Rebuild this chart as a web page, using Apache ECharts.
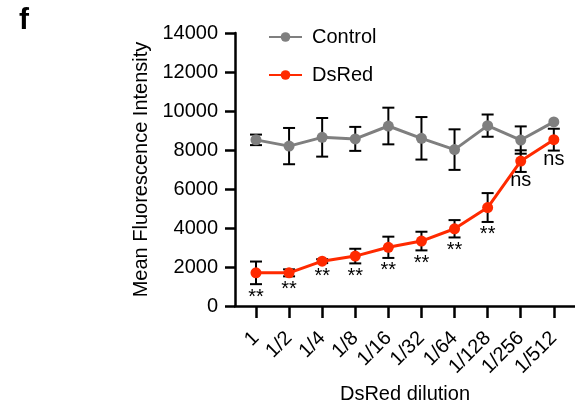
<!DOCTYPE html>
<html>
<head>
<meta charset="utf-8">
<script src="https://cdn.jsdelivr.net/npm/echarts@6/dist/echarts.min.js"></script>
<style>
  html, body { margin: 0; padding: 0; background: #fff; }
  #main { width: 575px; height: 404px; }
</style>
</head>
<body>
<div id="main"></div>
<script>
// dilution categories (x axis)
var dilutions = ['1', '1/2', '1/4', '1/8', '1/16', '1/32', '1/64', '1/128', '1/256', '1/512'];

// mean +/- error
var controlMean = [8520, 8200, 8650, 8570, 9230, 8600, 8020, 9250, 8510, 9440];
var controlErr  = [270, 930, 990, 615, 940, 1090, 1040, 570, 700, 0];
var dsredMean   = [1700, 1700, 2300, 2560, 3010, 3330, 3960, 5050, 7430, 8530];
var dsredErr    = [580, 180, 100, 375, 545, 478, 445, 740, 555, 560];
var sigLabels   = ['**', '**', '**', '**', '**', '**', '**', '**', 'ns', 'ns'];

var yTicks = [0, 2000, 4000, 6000, 8000, 10000, 12000, 14000];

var FONT = 'Arial, "Liberation Sans", sans-serif';
var GRAY = '#7f7f7f';
var RED = '#ff2a00';

function pts(arr) {
  return arr.map(function (v, i) { return [i, v]; });
}
function errData(mean, err, labels) {
  return mean.map(function (v, i) { return [i, v, err[i], labels ? labels[i] : '']; });
}

// error bar + significance mark under the lower whisker
function errorRender(params, api) {
  var i = api.value(0), m = api.value(1), e = api.value(2);
  var lab = api.value(3);
  var top = api.coord([i, m + e]);
  var bot = api.coord([i, m - e]);
  var hw = 6;
  var st = { stroke: '#000', lineWidth: 2 };
  var children = [];
  if (e > 0) {
    children.push({ type: 'line', shape: { x1: top[0], y1: top[1], x2: bot[0], y2: bot[1] }, style: st });
    children.push({ type: 'line', shape: { x1: top[0] - hw, y1: top[1], x2: top[0] + hw, y2: top[1] }, style: st });
    children.push({ type: 'line', shape: { x1: bot[0] - hw, y1: bot[1], x2: bot[0] + hw, y2: bot[1] }, style: st });
  }
  if (lab) {
    children.push({
      type: 'text',
      style: {
        text: lab, x: bot[0], y: bot[1] + (lab === 'ns' ? -1 : 3),
        align: 'center', verticalAlign: 'top',
        font: '20px ' + FONT, fill: '#000'
      }
    });
  }
  return { type: 'group', children: children };
}

var myChart = echarts.init(document.getElementById('main'));

var option = {
  animation: false,
  backgroundColor: '#fff',
  title: {
    text: 'f', left: 14, top: 1,
    textStyle: { fontSize: 30, fontWeight: 'bold', fontFamily: FONT, color: '#000' }
  },
  legend: {
    orient: 'vertical',
    left: 263, top: 22,
    itemWidth: 33, itemHeight: 12, itemGap: 18,
    textStyle: { fontSize: 20, fontFamily: FONT, color: '#000', padding: [0, 0, 0, 5] },
    data: ['Control', 'DsRed']
  },
  grid: { left: 235, right: 0, top: 33, bottom: 98, containLabel: false, outerBoundsMode: 'none' },
  xAxis: {
    type: 'value',
    min: -0.634, max: 9.64,
    name: 'DsRed dilution',
    nameLocation: 'middle', nameGap: 78,
    nameTextStyle: { fontSize: 20, fontFamily: FONT, color: '#000' },
    splitLine: { show: false },
    axisLine: { show: true, onZero: false, lineStyle: { color: '#000', width: 2.5 } },
    axisTick: { show: true, length: 12, lineStyle: { color: '#000', width: 2.5 }, customValues: [0, 1, 2, 3, 4, 5, 6, 7, 8, 9] },
    axisLabel: {
      customValues: [0, 1, 2, 3, 4, 5, 6, 7, 8, 9],
      rotate: 45, margin: 29,
      fontSize: 20, fontFamily: FONT, color: '#000',
      formatter: function (v) { return dilutions[Math.round(v)]; }
    }
  },
  yAxis: {
    type: 'value',
    min: 0, max: 14000, interval: 2000,
    name: 'Mean Fluorescence Intensity',
    nameLocation: 'middle', nameGap: 81,
    nameTextStyle: { fontSize: 20, fontFamily: FONT, color: '#000' },
    splitLine: { show: false },
    axisLine: { show: true, onZero: false, lineStyle: { color: '#000', width: 2.5 } },
    axisTick: { show: true, length: 10, lineStyle: { color: '#000', width: 2.5 } },
    axisLabel: {
      margin: 17, fontSize: 20, fontFamily: FONT, color: '#000',
      formatter: function (v) { return yTicks.indexOf(v) >= 0 ? String(v) : ''; }
    }
  },
  series: [
    {
      name: 'ctrlErr', type: 'custom', z: 1,
      renderItem: errorRender, data: errData(controlMean, controlErr), silent: true
    },
    {
      name: 'redErr', type: 'custom', z: 1,
      renderItem: errorRender, data: errData(dsredMean, dsredErr, sigLabels), silent: true
    },
    {
      name: 'Control', type: 'line', z: 3,
      data: pts(controlMean),
      symbol: 'circle', symbolSize: 11,
      itemStyle: { color: GRAY },
      lineStyle: { color: GRAY, width: 3 }
    },
    {
      name: 'DsRed', type: 'line', z: 4,
      data: pts(dsredMean),
      symbol: 'circle', symbolSize: 11,
      itemStyle: { color: RED },
      lineStyle: { color: RED, width: 3 }
    }
  ]
};

myChart.setOption(option);
</script>
</body>
</html>
